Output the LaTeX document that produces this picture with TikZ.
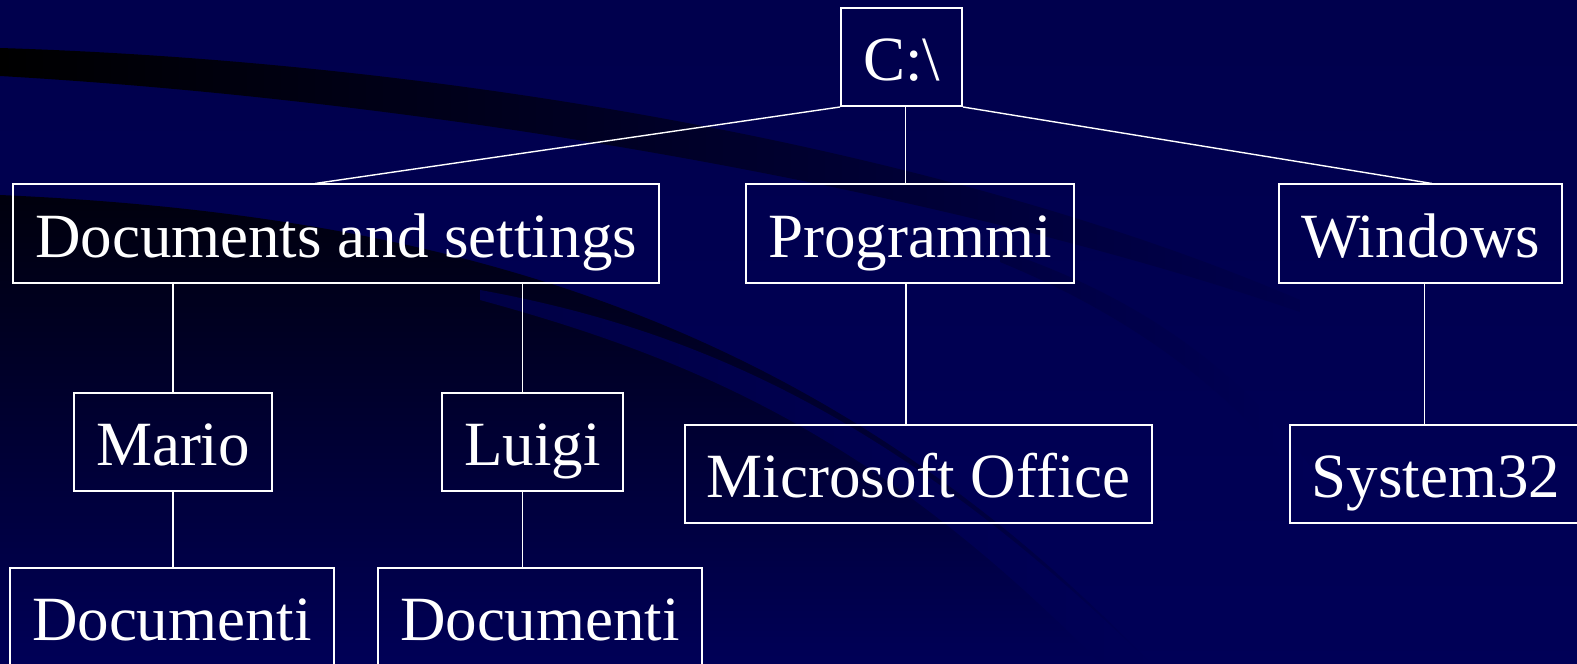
\documentclass[tikz,border=0pt]{standalone}
\usepackage{fontspec}
\setmainfont{Liberation Serif}
\usepackage{xcolor}
\definecolor{navy}{rgb}{0.0, 0.0, 0.34}
\definecolor{deepnavy}{rgb}{0.0, 0.0, 0.30}
\usepackage{tikz}
\usetikzlibrary{calc,backgrounds}

\tikzset{
  folder/.style={draw=white,line width=1pt,text=white,inner xsep=11pt,inner ysep=0pt,
    text height=31.5pt,text depth=8pt,minimum height=49pt,
    font=\fontsize{31.5}{36}\selectfont},
  branch/.style={white,line width=0.7pt}
}

\begin{document}
\begin{tikzpicture}[x=0.5pt,y=-0.5pt]
  \useasboundingbox (0,0) rectangle (1577,663);
  % background and swooshes
  \fill[top color=deepnavy,bottom color=navy] (0,0) rectangle (1577,663);
  \shade[left color=black,right color=deepnavy]
    (0,48) .. controls (450,62) and (950,150) .. (1300,300)
    -- (1300,312) .. controls (950,192) and (450,102) .. (0,76) -- cycle;
  \shade[top color=black!85!navy,bottom color=navy]
    (0,195) .. controls (450,215) and (820,320) .. (1150,663)
    -- (0,663) -- cycle;
  \shade[left color=navy!80!black,right color=navy]
    (480,290) .. controls (700,330) and (900,420) .. (1150,663)
    -- (1100,663) .. controls (880,440) and (700,360) .. (480,300) -- cycle;
  \shade[left color=deepnavy!85!black,right color=navy]
    (1000,250) .. controls (1150,300) and (1250,380) .. (1320,480)
    -- (1300,480) .. controls (1230,390) and (1130,315) .. (1000,262) -- cycle;

  \node[folder] (root) at (901.5,57) {C:\textbackslash};
  \node[folder] (docs) at (336,233.5) {Documents and settings};
  \node[folder] (prog) at (910,233.5) {Programmi};
  \node[folder] (win) at (1420.5,233.5) {Windows};
  \node[folder] (mario) at (173,441.5) {Mario};
  \node[folder] (luigi) at (532.5,441.5) {Luigi};
  \node[folder] (office) at (918.5,473.5) {Microsoft Office};
  \node[folder] (sys) at (1436,473.5) {System32};
  \node[folder] (doc1) at (172,617) {Documenti};
  \node[folder] (doc2) at (540,617) {Documenti};

  \draw[branch] (root.south west) -- ([xshift=-10.5pt]docs.north);
  \draw[branch] ([xshift=2pt]root.south) -- ([xshift=2pt]root.south |- prog.north);
  \draw[branch] (root.south east) -- ([xshift=5.75pt]win.north);

  \draw[branch] (docs.south -| mario.north) -- (mario.north);
  \draw[branch] ([xshift=-5pt]luigi.north |- docs.south) -- ([xshift=-5pt]luigi.north);
  \draw[branch] (mario.south) -- (mario.south |- doc1.north);
  \draw[branch] ([xshift=-5pt]luigi.south) -- ([xshift=-5pt]luigi.south |- doc2.north);
  \draw[branch] ([xshift=-2pt]prog.south) -- ([xshift=-2pt]prog.south |- office.north);
  \draw[branch] ([xshift=2pt]win.south) -- ([xshift=2pt]win.south |- sys.north);
\end{tikzpicture}
\end{document}
